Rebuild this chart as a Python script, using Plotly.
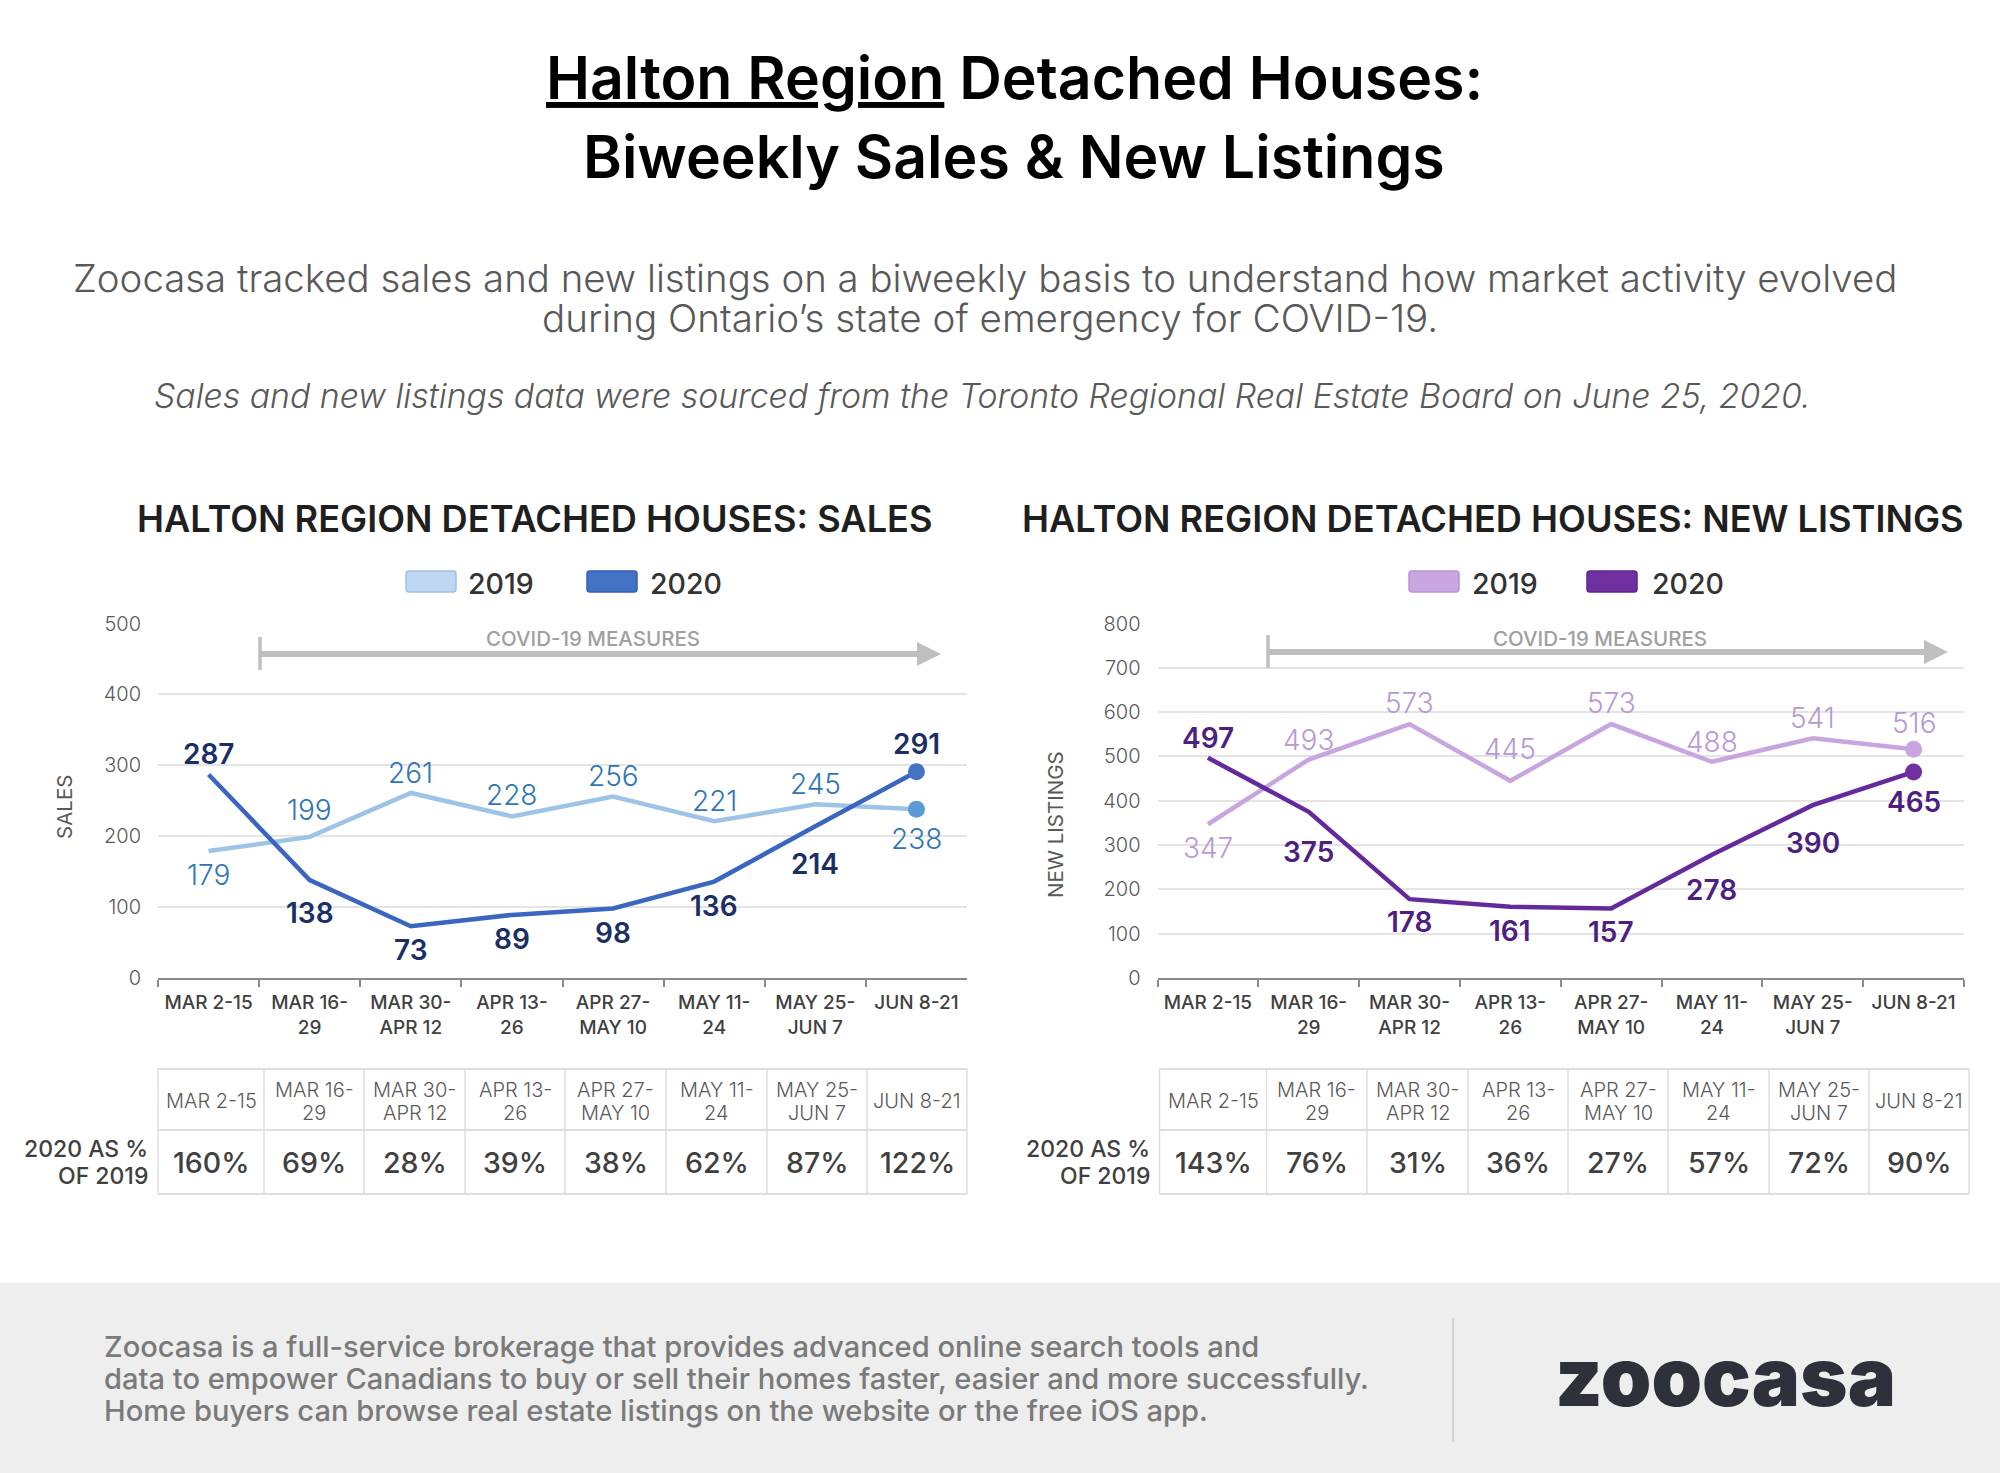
import plotly.graph_objects as go

categories = ["MAR 2-15", "MAR 16-<br>29", "MAR 30-<br>APR 12", "APR 13-<br>26",
              "APR 27-<br>MAY 10", "MAY 11-<br>24", "MAY 25-<br>JUN 7", "JUN 8-21"]
sales_2019 = [179, 199, 261, 228, 256, 221, 245, 238]
sales_2020 = [287, 138, 73, 89, 98, 136, 214, 291]
listings_2019 = [347, 493, 573, 445, 573, 488, 541, 516]
listings_2020 = [497, 375, 178, 161, 157, 278, 390, 465]
sales_pct = ["160%", "69%", "28%", "39%", "38%", "62%", "87%", "122%"]
listings_pct = ["143%", "76%", "31%", "36%", "27%", "57%", "72%", "90%"]

# label offsets in pixels (style, not data)
off_s19 = [-24, 27, 20, 21, 20, 20, 20, -30]
off_s20 = [21, -33, -24, -24, -24, -24, -38, 28]
off_l19 = [-24, 20, 21, 32, 21, 20, 20, 26]
off_l20 = [20, -40, -23, -24, -24, -35, -38, -30]

W, H = 2000, 1473
FONT = "Inter"
px = lambda x: x / W
py = lambda y: 1 - y / H

fig = go.Figure()
shapes, ann = [], []

def text(x, y, s, size, color, weight=400, anchor="center", style="normal", angle=0):
    ann.append(dict(xref="paper", yref="paper", x=px(x), y=py(y), text=s, showarrow=False,
                    xanchor=anchor, yanchor="middle", textangle=angle,
                    font=dict(family=FONT, size=size, color=color, weight=weight, style=style)))

def rect(x0, y0, x1, y1, fill, line=None, lw=0, layer="above"):
    shapes.append(dict(type="rect", xref="paper", yref="paper", x0=px(x0), x1=px(x1),
                       y0=py(y0), y1=py(y1), fillcolor=fill, layer=layer,
                       line=dict(color=line or fill, width=lw)))

def rrect(x0, y0, x1, y1, r, fill, line, lw):
    X = lambda v: px(v)
    Y = lambda v: py(v)
    path = (f"M {X(x0+r)} {Y(y0)} L {X(x1-r)} {Y(y0)} Q {X(x1)} {Y(y0)} {X(x1)} {Y(y0+r)} "
            f"L {X(x1)} {Y(y1-r)} Q {X(x1)} {Y(y1)} {X(x1-r)} {Y(y1)} "
            f"L {X(x0+r)} {Y(y1)} Q {X(x0)} {Y(y1)} {X(x0)} {Y(y1-r)} "
            f"L {X(x0)} {Y(y0+r)} Q {X(x0)} {Y(y0)} {X(x0+r)} {Y(y0)} Z")
    shapes.append(dict(type="path", xref="paper", yref="paper", path=path, fillcolor=fill,
                       line=dict(color=line, width=lw)))

def seg(x0, y0, x1, y1, color, lw, layer="above"):
    shapes.append(dict(type="line", xref="paper", yref="paper", x0=px(x0), x1=px(x1),
                       y0=py(y0), y1=py(y1), layer=layer, line=dict(color=color, width=lw)))

panels = [
    dict(ax="", x0=158, x1=967, ymax=500, dtick=100, v19=sales_2019, v20=sales_2020,
         o19=off_s19, o20=off_s20, c19="#9dc3e6", c20="#3a66c0", m19="#5b9bd5", m20="#4472c4",
         t19="#2e75b6", t20="#1a2f66", s19="#bed6ef", b19="#9dc0e8", s20="#4472c4", b20="#2f5fb3",
         title="HALTON REGION DETACHED HOUSES: SALES", tx=535,
         leg=(406, 466, 587, 648), ylab="SALES", ylx=64, yly=807,
         arrow=(260, 941, 654), covx=593,
         tab=[158, 264, 364, 465, 565, 666, 767, 867, 967], pct=sales_pct, rowx=150),
    dict(ax="2", x0=1157.5, x1=1964, ymax=800, dtick=100, v19=listings_2019, v20=listings_2020,
         o19=off_l19, o20=off_l20, c19="#c9a5e0", c20="#642a9c", m19="#c9a5e0", m20="#7030a0",
         t19="#b898d4", t20="#4d1f82", s19="#c9a6e0", b19="#b994d6", s20="#7030a0", b20="#5f2490",
         title="HALTON REGION DETACHED HOUSES: NEW LISTINGS", tx=1493,
         leg=(1409, 1470, 1587, 1650), ylab="NEW LISTINGS", ylx=1055, yly=825,
         arrow=(1268, 1948, 652), covx=1600,
         tab=[1159.5, 1266.5, 1367, 1468, 1568, 1668, 1769, 1869, 1969], pct=listings_pct, rowx=1151.5),
]

PLOT_TOP, PLOT_BOTTOM = 623.5, 978

rect(0, 1283, W, H, "#eeeeee", layer="below")

for p in panels:
    ax = p["ax"]
    xa, ya = f"x{ax}", f"y{ax}"
    for vals, col, mcol, name in ((p["v19"], p["c19"], p["m19"], "2019"), (p["v20"], p["c20"], p["m20"], "2020")):
        fig.add_trace(go.Scatter(x=categories, y=vals, mode="lines+markers", name=name, xaxis=xa, yaxis=ya,
                                 showlegend=False, line=dict(color=col, width=4.5),
                                 marker=dict(size=[0] * 7 + [17], color=mcol, opacity=1, line=dict(width=0))))
    for vals, offs, col, wt in ((p["v19"], p["o19"], p["t19"], 300), (p["v20"], p["o20"], p["t20"], 600)):
        for c, v, o in zip(categories, vals, offs):
            ann.append(dict(xref=xa, yref=ya, x=c, y=v, yshift=o, text=str(v), showarrow=False,
                            xanchor="center", yanchor="middle",
                            font=dict(family=FONT, size=28, color=col, weight=wt)))
    axis_common = dict(domain=[px(p["x0"]), px(p["x1"])], anchor=ya, type="category", tickson="boundaries",
                       range=[-0.5, 7.5], ticks="outside", ticklen=7, tickwidth=1.5, tickcolor="#8a8a8a",
                       showline=True, linecolor="#8a8a8a", linewidth=2, showgrid=False, automargin=False,
                       tickangle=0, ticklabelstandoff=6,
                       tickfont=dict(family=FONT, size=19, color="#404040", weight=500))
    yaxis_common = dict(domain=[py(PLOT_BOTTOM), py(PLOT_TOP)], anchor=xa, range=[0, p["ymax"]], dtick=p["dtick"],
                        showgrid=True, gridcolor="#e4e4e4", gridwidth=2, zeroline=False, showline=False,
                        ticks="", ticklabelstandoff=16, automargin=False,
                        tickfont=dict(family=FONT, size=20, color="#595959", weight=300))
    fig.update_layout({f"xaxis{ax}": axis_common, f"yaxis{ax}": yaxis_common})

    text(p["tx"], 518.5, p["title"], 36.2, "#1f1f1f", 600)
    # legend
    l0, lt0, l1, lt1 = p["leg"]
    for sx, tx, fill, bord, lab in ((l0, lt0, p["s19"], p["b19"], "2019"), (l1, lt1, p["s20"], p["b20"], "2020")):
        rrect(sx, 571, sx + 50, 592, 3, fill, bord, 1.5)
        text(tx, 583, lab, 28.5, "#333333", 500, anchor="left")
    text(p["ylx"], p["yly"], p["ylab"], 20.5, "#595959", 400, angle=-90)
    # covid arrow
    a0, a1, ay = p["arrow"]
    seg(a0, ay, a1 - 20, ay, "#bfbfbf", 6)
    seg(a0, ay - 17, a0, ay + 16, "#bfbfbf", 3.5)
    shapes.append(dict(type="path", xref="paper", yref="paper", line=dict(width=0), fillcolor="#bfbfbf",
                       path=f"M {px(a1-24)} {py(ay-12)} L {px(a1)} {py(ay)} L {px(a1-24)} {py(ay+12)} Z"))
    text(p["covx"], 638.5, "COVID-19 MEASURES", 20.5, "#a0a0a0", 500)
    # table
    tab = p["tab"]
    T0, T1, T2 = 1069, 1130, 1194
    for x in tab:
        seg(x, T0, x, T2, "#dedede", 1.5)
    for y in (T0, T1, T2):
        seg(tab[0], y, tab[-1], y, "#dedede", 2)
    for i, (c, pc) in enumerate(zip(categories, p["pct"])):
        cx = (tab[i] + tab[i + 1]) / 2
        parts = c.split("<br>")
        if len(parts) == 2:
            text(cx, 1089.5, parts[0], 20, "#595959", 300)
            text(cx, 1112.5, parts[1], 20, "#595959", 300)
        else:
            text(cx, 1101, c, 20, "#595959", 300)
        text(cx, 1162, pc, 28.5, "#404040", 500)
    text(p["rowx"], 1149, "2020 AS %", 23, "#404040", 500, anchor="right")
    text(p["rowx"], 1176, "OF 2019", 23, "#404040", 500, anchor="right")

# headings
text(1014, 78, "<u>Halton Region</u> Detached Houses:", 59, "#000000", 600)
text(1014, 157, "Biweekly Sales &amp; New Listings", 59, "#000000", 600)
text(985, 278, "Zoocasa tracked sales and new listings on a biweekly basis to understand how market activity evolved", 38.4, "#595959", 300)
text(990, 318, "during Ontario’s state of emergency for COVID-19.", 38.6, "#595959", 300)
text(982, 395, "Sales and new listings data were sourced from the Toronto Regional Real Estate Board on June 25, 2020.", 33.8, "#595959", 300, style="italic")

# footer
foot = ["Zoocasa is a full-service brokerage that provides advanced online search tools and",
        "data to empower Canadians to buy or sell their homes faster, easier and more successfully.",
        "Home buyers can browse real estate listings on the website or the free iOS app."]
for y, line in zip((1346, 1378, 1410), foot):
    text(102, y, line, 29.1, "#7a7a7a", 500, anchor="left")
seg(1453, 1318, 1453, 1442, "#c8c8c8", 1.5)
text(1725, 1377, "zoocasa", 81, "#2e303a", 900)

fig.update_layout(width=W, height=H, margin=dict(l=0, r=0, t=0, b=0, autoexpand=False), paper_bgcolor="white",
                  plot_bgcolor="white", showlegend=False, shapes=shapes, annotations=ann,
                  font=dict(family=FONT))
fig.write_html("out.html", config=dict(displayModeBar=False, responsive=False),
               post_script="document.body.style.margin='0';")
